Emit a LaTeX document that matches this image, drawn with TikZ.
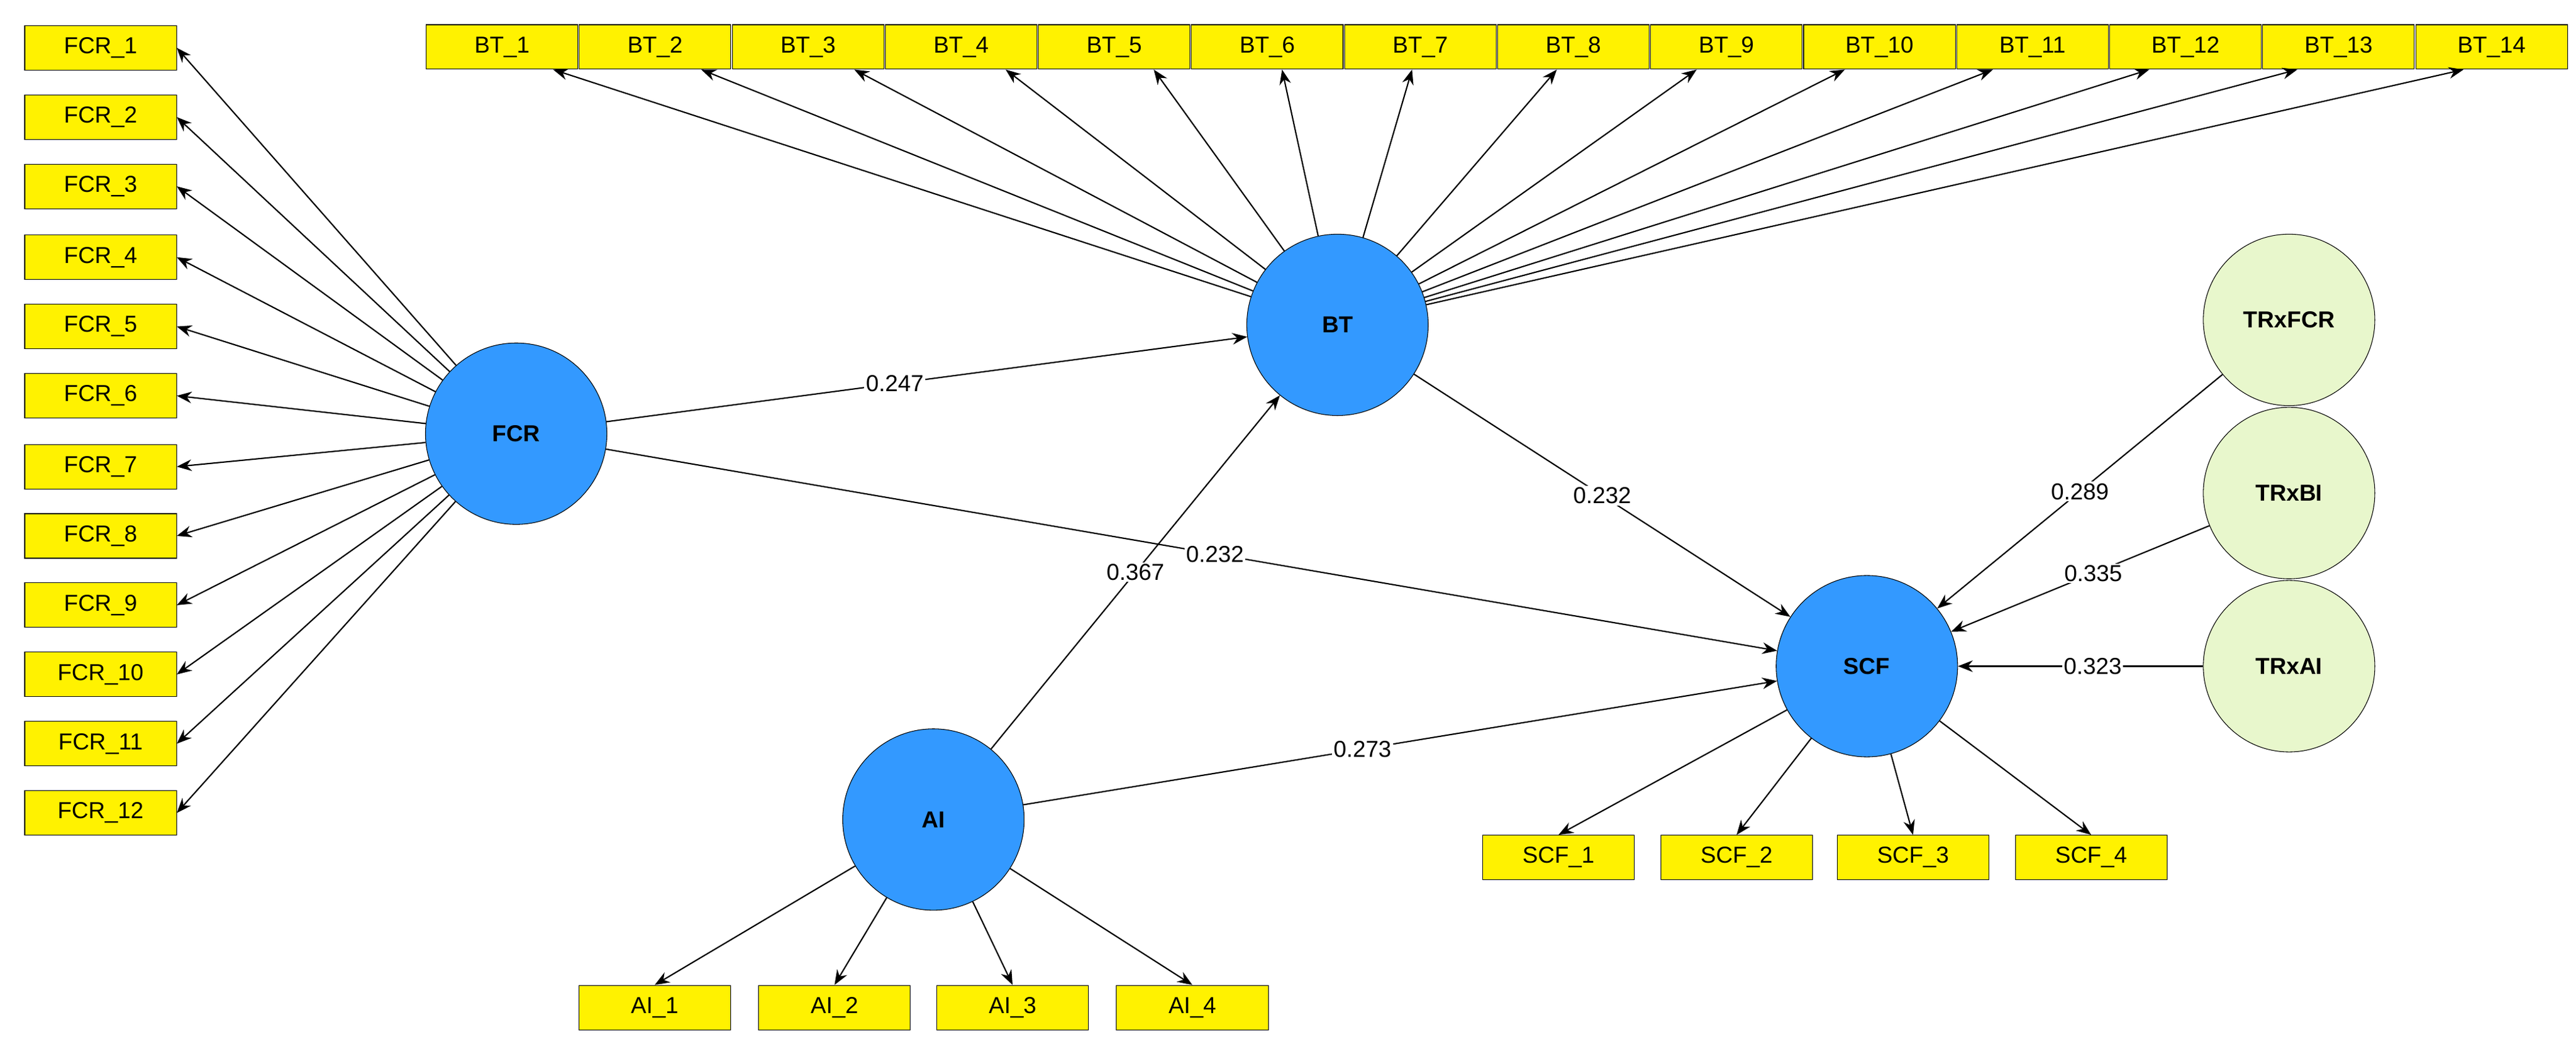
\documentclass[tikz,border=0pt]{standalone}
\usepackage{fontspec}
\setmainfont{Liberation Sans}
\usetikzlibrary{arrows.meta}
\definecolor{lv}{HTML}{3399FF}
\definecolor{mv}{HTML}{E8F7CC}
\begin{document}
\begin{tikzpicture}[x=1pt,y=-1pt,
 ind/.style={draw,fill=yellow,minimum width=92pt,minimum height=27pt,inner sep=0pt,font=\fontsize{14}{16}\selectfont},
 lat/.style={draw,circle,fill=lv,minimum size=110pt,font=\bfseries\fontsize{14}{16}\selectfont},
 mod/.style={draw,circle,fill=mv,minimum size=104pt,font=\bfseries\fontsize{14}{16}\selectfont},
 arr/.style={-{Stealth[length=9pt,width=7pt]},line width=0.8pt},
 lab/.style={fill=white,inner sep=1pt,font=\fontsize{14}{16}\selectfont}]
\useasboundingbox (0,0) rectangle (1562,633);
% FCR indicators
\foreach \i/\y in {1/29,2/71,3/113,4/156,5/198,6/240,7/283,8/325,9/367,10/409,11/451,12/493}
  \node[ind] (f\i) at (61,\y) {FCR\_\i};
% BT indicators
\foreach \i in {1,...,14}
  \node[ind] (b\i) at ({258+46.4+(\i-1)*92.8},28.5) {BT\_\i};
\node[ind] (s1) at (945,520) {SCF\_1};
\node[ind] (s2) at (1053,520) {SCF\_2};
\node[ind] (s3) at (1160,520) {SCF\_3};
\node[ind] (s4) at (1268,520) {SCF\_4};
\node[ind] (a1) at (397,611) {AI\_1};
\node[ind] (a2) at (506,611) {AI\_2};
\node[ind] (a3) at (614,611) {AI\_3};
\node[ind] (a4) at (723,611) {AI\_4};
\node[lat] (FCR) at (313,263) {FCR};
\node[lat] (BT) at (811,197) {BT};
\node[lat] (AI) at (566,497) {AI};
\node[lat] (SCF) at (1132,404) {SCF};
\node[mod] (m1) at (1388,194) {TRxFCR};
\node[mod] (m2) at (1388,299) {TRxBI};
\node[mod] (m3) at (1388,404) {TRxAI};
\foreach \i in {1,...,12} \draw[arr] (FCR) -- (f\i.east);
\foreach \i/\s in {1/31,2/28,3/28,4/27,5/24,6/9,7/-5,8/-10,9/-18,10/-21,11/-24,12/-22,13/-25,14/-17}
  \draw[arr] (BT) -- ([xshift=\s pt]b\i.south);
\foreach \i in {1,...,4} \draw[arr] (SCF) -- (s\i.north);
\foreach \i in {1,...,4} \draw[arr] (AI) -- (a\i.north);
\draw[arr] (FCR) -- node[lab,pos=0.45]{0.247} (BT);
\draw[arr] (BT) -- node[lab,pos=0.5]{0.232} (SCF);
\draw[arr] (FCR) -- node[lab,pos=0.52]{0.232} (SCF);
\draw[arr] (AI) -- node[lab,pos=0.5]{0.367} (BT);
\draw[arr] (AI) -- node[lab,pos=0.45]{0.273} (SCF);
\draw[arr] (m1) -- node[lab,pos=0.5]{0.289} (SCF);
\draw[arr] (m2) -- node[lab,pos=0.45]{0.335} (SCF);
\draw[arr] (m3) -- node[lab,pos=0.45]{0.323} (SCF);
\end{tikzpicture}
\end{document}
